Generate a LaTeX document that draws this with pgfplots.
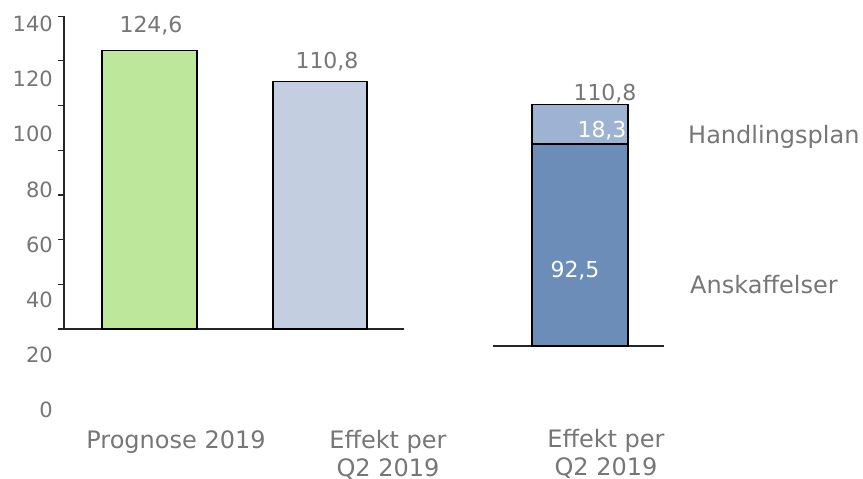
\documentclass[border=0pt]{standalone}
\usepackage{fontspec}
\setmainfont{DejaVu Sans}
\usepackage{pgfplots}
\pgfplotsset{compat=1.18}
\definecolor{txt}{HTML}{767676}
\definecolor{cgreen}{HTML}{BDE89C}
\definecolor{csteel}{HTML}{C3CEE0}
\definecolor{cdark}{HTML}{6D8DB9}
\definecolor{clight}{HTML}{9EB2D2}
\definecolor{axc}{HTML}{262626}
\newcommand{\lab}{\fontsize{22}{27}\selectfont}
\newcommand{\labt}{\fontsize{24}{28}\selectfont}
\pgfplotsset{third/.style={at={(493pt,133pt)}, anchor=south west, scale only axis,
  width=171pt, height=261.7pt, xmin=493, xmax=664, ymin=0, ymax=120,
  xtick=\empty, ytick=\empty, clip=false}}
\begin{document}
\begin{tikzpicture}
\useasboundingbox (0pt,0pt) rectangle (863pt,479pt);
% y tick labels (as placed in the reference)
\begin{axis}[at={(53pt,69pt)}, anchor=south west, scale only axis,
  width=10pt, height=386pt, xmin=0, xmax=1, ymin=0, ymax=140,
  axis line style={draw=none}, major tick style={draw=none},
  xtick=\empty, ytick={0,20,...,140},
  yticklabels={0,20,40,60,80,100,120,140},
  yticklabel style={anchor=east, inner sep=0pt, font=\fontsize{21}{25}\selectfont, text=txt}]
\end{axis}
% main axis
\begin{axis}[at={(64pt,150pt)}, anchor=south west, scale only axis,
  width=340pt, height=312.8pt, xmin=64, xmax=404, ymin=0, ymax=140,
  axis x line*=bottom, axis y line*=left,
  axis line style={line width=1.5pt, axc},
  xtick=\empty, ytick={0,20,...,140}, yticklabels={},
  tick align=outside, major tick length=6pt,
  tick style={line width=1.2pt, axc}, clip=false]
\addplot[ybar, bar width=95, bar shift=0pt, fill=cgreen, draw=black, line width=1.6pt] coordinates {(149.3,124.6)};
\addplot[ybar, bar width=94, bar shift=0pt, fill=csteel, draw=black, line width=1.6pt] coordinates {(319.7,110.8)};
\node[font=\lab, text=txt, inner sep=0pt] at (axis cs:151,135.9) {124,6};
\node[font=\lab, text=txt, inner sep=0pt] at (axis cs:327,119.7) {110,8};
\node[font=\labt, text=txt, inner sep=0pt] at (axis cs:176,-50.5) {Prognose 2019};
\node[font=\labt, text=txt, inner sep=0pt, align=center] at (axis cs:388,-56.2) {Effekt per\\Q2 2019};
\end{axis}
% stacked bar axis
\begin{axis}[third, ybar stacked, bar width=96, bar shift=0pt,
  axis x line*=bottom, axis y line=none,
  axis line style={line width=1.5pt, axc}]
\addplot[fill=cdark, draw=black, line width=1.6pt] coordinates {(580,92.5)};
\addplot[fill=clight, draw=black, line width=1.6pt] coordinates {(580,18.3)};
\end{axis}
% labels of the stacked bar, drawn on top
\begin{axis}[third, hide axis]
\node[font=\lab, text=txt, inner sep=0pt] at (axis cs:605,115.6) {110,8};
\node[font=\lab, text=white, inner sep=0pt] at (axis cs:602,98.8) {18,3};
\node[font=\lab, text=white, inner sep=0pt] at (axis cs:575,34.4) {92,5};
\node[font=\labt, text=txt, inner sep=0pt, anchor=west] at (axis cs:688,95.9) {Handlingsplan};
\node[font=\labt, text=txt, inner sep=0pt, anchor=west] at (axis cs:690,28.4) {Anskaffelser};
\node[font=\labt, text=txt, inner sep=0pt, align=center] at (axis cs:606,-49.3) {Effekt per\\Q2 2019};
\end{axis}
\end{tikzpicture}
\end{document}
